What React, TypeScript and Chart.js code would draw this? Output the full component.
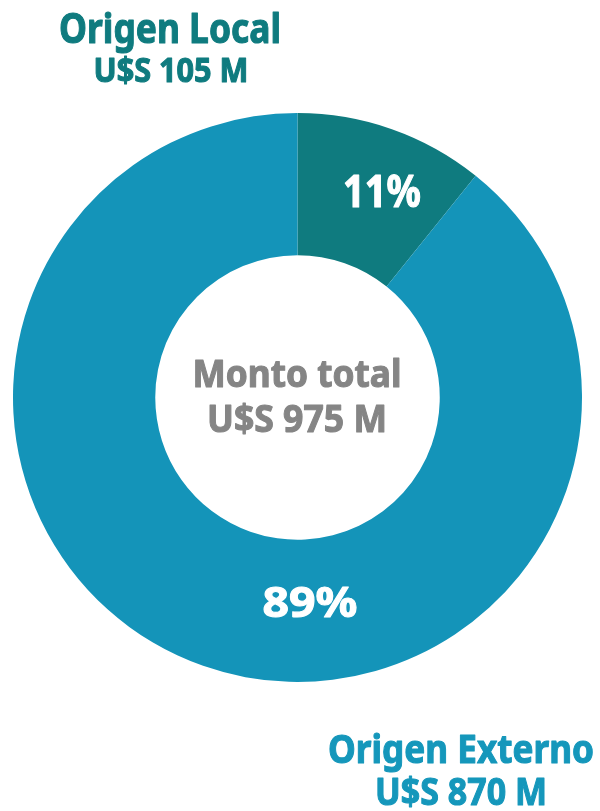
import React, { useEffect, useRef } from "react";
import { Chart, registerables } from "chart.js";

Chart.register(...registerables);

const categories = ["Origen Local", "Origen Externo"];
const amounts = [105, 870];
const amountLabels = ["U$S 105 M", "U$S 870 M"];
const totalLabel = ["Monto total", "U$S 975 M"];
const sliceColors = ["#0f7b7f", "#1494b9"];
const labelColors = ["#0f7b7f", "#1597bb"];

type TextSpec = { text: string; cx: number; base: number; size: number; width: number; color: string };

function drawText(ctx: CanvasRenderingContext2D, s: TextSpec) {
  ctx.save();
  ctx.font = `bold ${s.size}px "Noto Sans"`;
  ctx.fillStyle = s.color;
  ctx.strokeStyle = s.color;
  ctx.lineJoin = "round";
  ctx.textAlign = "center";
  ctx.textBaseline = "alphabetic";
  const w = ctx.measureText(s.text).width;
  ctx.translate(s.cx, s.base);
  const sx = (s.width - 1) / w;
  ctx.scale(sx, 1);
  ctx.lineWidth = 1.1;
  ctx.fillText(s.text, 0, 0);
  ctx.strokeText(s.text, 0, 0);
  ctx.restore();
}

const textPlugin = {
  id: "textPlugin",
  afterDraw(chart: any) {
    const ctx = chart.ctx as CanvasRenderingContext2D;
    const total = amounts.reduce((a, b) => a + b, 0);
    const pct = amounts.map((v) => `${Math.round((v / total) * 100)}%`);
    const specs: TextSpec[] = [
      { text: categories[0], cx: 170, base: 43, size: 42, width: 223, color: labelColors[0] },
      { text: amountLabels[0], cx: 171, base: 82, size: 34, width: 156, color: labelColors[0] },
      { text: categories[1], cx: 461, base: 763, size: 40, width: 267, color: labelColors[1] },
      { text: amountLabels[1], cx: 461, base: 805, size: 38, width: 173, color: labelColors[1] },
      { text: totalLabel[0], cx: 297, base: 387, size: 38, width: 210, color: "#858585" },
      { text: totalLabel[1], cx: 297, base: 432, size: 38, width: 181, color: "#858585" },
      { text: pct[0], cx: 382, base: 207, size: 44, width: 79, color: "#ffffff" },
      { text: pct[1], cx: 310, base: 617, size: 42, width: 96, color: "#ffffff" },
    ];
    specs.forEach((s) => drawText(ctx, s));
  },
};

export default function App() {
  const ref = useRef<HTMLCanvasElement>(null);
  useEffect(() => {
    if (!ref.current) return;
    const chart = new Chart(ref.current, {
      type: "doughnut",
      data: {
        labels: categories,
        datasets: [
          {
            data: amounts,
            backgroundColor: sliceColors,
            borderWidth: 0,
          },
        ],
      },
      options: {
        animation: false,
        responsive: false,
        cutout: "50%",
        layout: { padding: { left: 13, right: 18, top: 113, bottom: 129 } },
        plugins: {
          legend: { display: false },
          tooltip: { enabled: false },
        },
      },
      plugins: [textPlugin],
    });
    return () => chart.destroy();
  }, []);
  return (
    <div style={{ position: "absolute", left: 0, top: 0, width: 600, height: 811, background: "#ffffff" }}>
      <canvas ref={ref} width={600} height={811} style={{ width: 600, height: 811, display: "block" }} />
    </div>
  );
}
